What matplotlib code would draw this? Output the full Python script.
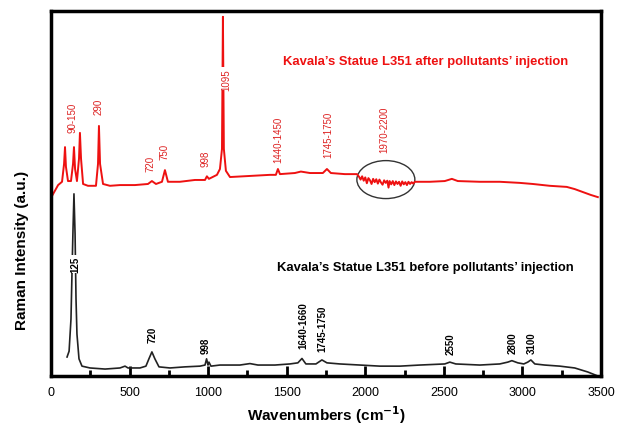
import matplotlib.pyplot as plt
from matplotlib.patches import Ellipse

plt.rcParams['font.family'] = ['Liberation Sans', 'DejaVu Sans']

# after pollutants' injection (red)
after_x = [6, 45, 70, 83, 89, 95, 108, 127, 140, 146, 153, 165, 178, 184, 191, 204,
           235, 286, 299, 305, 312, 331, 375, 439, 534, 617, 642, 668, 706, 725, 744,
           820, 916, 980, 992, 1005, 1056, 1075, 1088, 1094, 1100, 1113, 1139, 1266,
           1393, 1431, 1444, 1457, 1552, 1590, 1648, 1730, 1756, 1781, 1870, 1947,
           1960, 1970, 1980, 1990, 2000, 2010, 2020, 2030, 2040, 2050, 2060, 2070,
           2080, 2090, 2100, 2110, 2120, 2130, 2140, 2148, 2155, 2165, 2175, 2185,
           2195, 2205, 2215, 2225, 2235, 2245, 2255, 2265, 2275, 2285, 2295, 2305,
           2315, 2411, 2506, 2551, 2589,
           2729, 2856, 2983, 3066, 3174, 3282, 3333, 3384, 3435, 3480]
after_y = [49.3, 52.3, 53.2, 58.1, 62.7, 57.3, 53.4, 53.4, 58.1, 62.7, 56.7, 53.4, 59.5,
           66.6, 59.5, 52.6, 52.1, 52.1, 58.1, 68.5, 58.1, 52.6, 52.1, 52.3, 52.3, 52.6,
           53.4, 52.6, 53.2, 56.4, 53.2, 53.2, 53.7, 53.7, 54.7, 54.0, 55.1, 56.7, 62.2,
           98.4, 62.2, 56.2, 54.5, 54.8, 55.1, 55.1, 56.7, 55.3, 55.6, 56.0, 55.6, 55.6,
           56.7, 55.6, 55.3, 55.3,
           54.6, 53.8, 54.7, 53.5, 54.4, 52.8, 54.2, 53.6, 52.6, 54.0, 53.1, 53.9,
           52.7, 53.8, 53.0, 52.4, 53.6, 52.9, 53.5, 51.6, 53.4, 52.5, 53.4, 52.3,
           53.3, 52.6, 53.2, 52.1, 53.3, 52.5, 53.1, 52.3, 53.2, 52.6, 53.1, 52.7,
           53.2, 53.2, 53.4, 54.0, 53.4,
           53.2, 53.2, 52.9, 52.6, 52.1, 51.8, 51.2, 50.4, 49.6, 49.0]

# before pollutants' injection (black)
before_x = [102, 115, 127, 134, 140, 146, 153, 159, 165, 178, 197, 248, 344, 439, 471,
            490, 566, 604, 623, 642, 661, 687, 757, 852, 948, 980, 990, 999, 1005, 1018,
            1075, 1202, 1266, 1317, 1425, 1520, 1571, 1597, 1622, 1686, 1724, 1756,
            1838, 1966, 2093, 2220, 2347, 2506, 2538, 2576, 2729, 2856, 2907, 2933,
            2971, 3009, 3034, 3054, 3079, 3142, 3238, 3333, 3416, 3480]
before_y = [5.2, 6.8, 15.6, 29.3, 40.3, 49.9, 38.9, 21.1, 11.5, 4.7, 2.7, 2.2, 1.9, 2.2,
            2.7, 2.2, 2.2, 2.7, 4.7, 6.6, 4.7, 2.5, 2.2, 2.5, 2.7, 3.0, 4.7, 3.0, 3.8, 2.7,
            3.0, 3.0, 3.4, 3.0, 3.0, 3.3, 3.6, 4.8, 3.3, 3.3, 4.4, 3.6, 3.3, 3.0, 2.7,
            2.7, 3.0, 3.3, 3.8, 3.3, 3.0, 3.3, 3.8, 4.2, 3.6, 3.3, 3.8, 4.4, 3.3, 3.0,
            2.7, 2.2, 1.1, 0.0]

after_labels = ['90-150', '290', '720', '750', '998', '1095', '1440-1450', '1745-1750', '1970-2200']
after_lx = [134, 305, 630, 725, 986, 1113, 1444, 1762, 2118]
after_ly = [71.0, 74.0, 58.4, 61.6, 59.7, 81.4, 64.9, 66.3, 67.7]

before_labels = ['125', '720', '998', '1640-1660', '1745-1750', '2550', '2800', '3100']
before_lx = [153, 649, 986, 1603, 1730, 2545, 2939, 3060]
before_ly = [30.7, 11.5, 8.5, 14.0, 13.2, 9.0, 9.3, 9.3]

fig = plt.figure(figsize=(6.2, 4.31), dpi=100)
ax = fig.add_axes([0.0823, 0.1253, 0.887, 0.847])

ax.plot(after_x, after_y, color='#ee1111', lw=1.4)
ax.plot(before_x, before_y, color='#222222', lw=1.2)

for t, x, y in zip(after_labels, after_lx, after_ly):
    ax.text(x, y, t, rotation=90, ha='center', va='center', fontsize=7, color='#dd2222',
            bbox=dict(facecolor='white', edgecolor='none', pad=0.5))
for t, x, y in zip(before_labels, before_lx, before_ly):
    ax.text(x, y, t, rotation=90, ha='center', va='center', fontsize=7, color='black',
            fontweight='bold', bbox=dict(facecolor='white', edgecolor='none', pad=0.5))

ax.text(1476, 86.3, 'Kavala\u2019s Statue L351 after pollutants\u2019 injection', color='#ee1111',
        fontsize=9.4, fontweight='bold', ha='left', va='center')
ax.text(1438, 29.9, 'Kavala\u2019s Statue L351 before pollutants\u2019 injection', color='black',
        fontsize=9.4, fontweight='bold', ha='left', va='center')

ax.add_patch(Ellipse((2131, 53.8), 369, 10.4, fill=False, edgecolor='#333333', lw=1.0))

ax.set_xlim(0, 3500)
ax.set_ylim(0, 100)
ax.set_xticks(range(0, 3501, 500))
ax.set_xticks(range(250, 3500, 500), minor=True)
ax.set_yticks([])
ax.tick_params(axis='x', which='major', direction='in', length=7, width=2, labelsize=9, pad=7)
ax.tick_params(axis='x', which='minor', direction='in', length=4, width=2)
for s in ax.spines.values():
    s.set_linewidth(2.5)

ax.set_xlabel('Wavenumbers (cm$^{\\mathbf{-1}}$)', fontsize=11, fontweight='bold', labelpad=4)
fig.text(0.035, 0.42, 'Raman Intensity (a.u.)', rotation=90, ha='center', va='center',
         fontsize=11, fontweight='bold')

fig.savefig('out.png', dpi=100)
